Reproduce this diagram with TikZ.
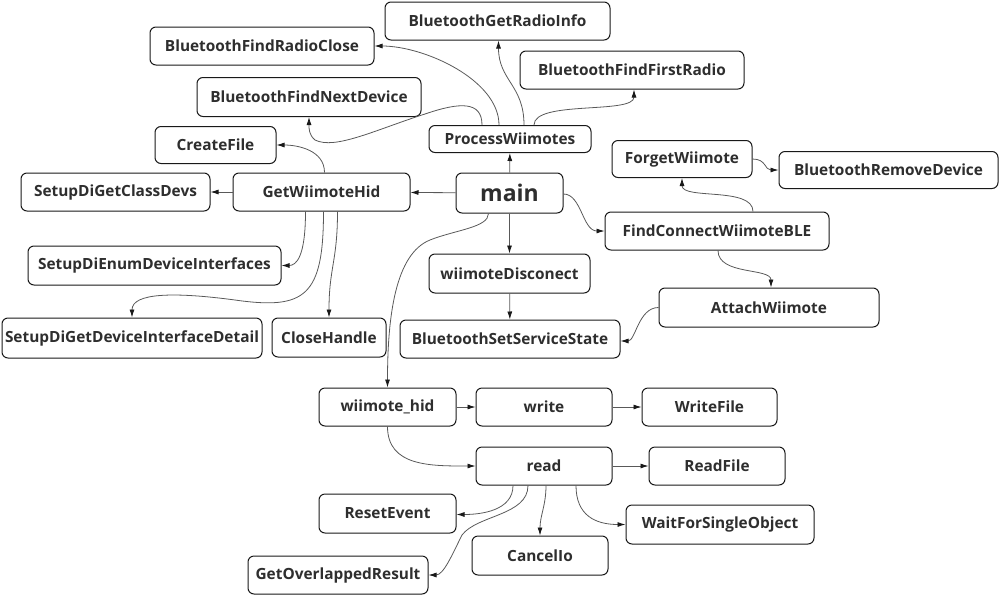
\documentclass[tikz,border=0pt]{standalone}
\usepackage{fontspec}
\setmainfont{Open Sans}
\usetikzlibrary{arrows.meta}
\begin{document}
\begin{tikzpicture}[x=1pt,y=-1pt,
  box/.style={draw=black!90, line width=1pt, rounded corners=6pt, fill=white, inner sep=0pt,
    font=\fontsize{15.4}{18}\selectfont\bfseries, text=black!82},
  edge/.style={draw=black!65, line width=0.8pt, -{Latex[length=8pt,width=5pt,color=black!90]}}]
\useasboundingbox (0,0) rectangle (1005,598);
% nodes
\node[box, minimum width=225, minimum height=38] (bgri) at (497.5,21) {BluetoothGetRadioInfo};
\node[box, minimum width=224, minimum height=38] (bfrc) at (262,46) {BluetoothFindRadioClose};
\node[box, minimum width=224, minimum height=38] (bffr) at (632,70) {BluetoothFindFirstRadio};
\node[box, minimum width=224, minimum height=39] (bfnd) at (309,97) {BluetoothFindNextDevice};
\node[box, minimum width=162, minimum height=27] (pw) at (510,139) {ProcessWiimotes};
\node[box, minimum width=121, minimum height=37] (cf) at (215.5,145) {CreateFile};
\node[box, minimum width=189, minimum height=38] (sdgcd) at (115.5,192) {SetupDiGetClassDevs};
\node[box, minimum width=177, minimum height=38] (gwh) at (321.5,192) {GetWiimoteHid};
\node[box, minimum width=107, minimum height=40, font=\fontsize{23}{27}\selectfont\bfseries] (main) at (509.5,193) {main};
\node[box, minimum width=140, minimum height=37] (fw) at (682,159) {ForgetWiimote};
\node[box, minimum width=219, minimum height=37] (brd) at (888.5,170) {BluetoothRemoveDevice};
\node[box, minimum width=224, minimum height=38] (fcw) at (717,231) {FindConnectWiimoteBLE};
\node[box, minimum width=253, minimum height=39] (sdedi) at (154.5,265.5) {SetupDiEnumDeviceInterfaces};
\node[box, minimum width=161, minimum height=39] (wd) at (509.5,273.5) {wiimoteDisconect};
\node[box, minimum width=220, minimum height=39] (aw) at (769,307.5) {AttachWiimote};
\node[box, minimum width=220, minimum height=38] (bsss) at (510,339) {BluetoothSetServiceState};
\node[box, minimum width=260, minimum height=40] (sdgdid) at (132,338) {SetupDiGetDeviceInterfaceDetail};
\node[box, minimum width=114, minimum height=39] (ch) at (329,337.5) {CloseHandle};
\node[box, minimum width=137, minimum height=38] (wh) at (387.5,407) {wiimote\_hid};
\node[box, minimum width=136, minimum height=38] (wr) at (544,407) {write};
\node[box, minimum width=135, minimum height=38] (wf) at (709.5,407) {WriteFile};
\node[box, minimum width=136, minimum height=38] (rd) at (544,466) {read};
\node[box, minimum width=136, minimum height=38] (rf) at (717,466) {ReadFile};
\node[box, minimum width=137, minimum height=39] (re) at (387.5,513.5) {ResetEvent};
\node[box, minimum width=188, minimum height=39] (wfso) at (720,524.5) {WaitForSingleObject};
\node[box, minimum width=136, minimum height=39] (cio) at (540,555.5) {CancelIo};
\node[box, minimum width=180, minimum height=38] (gor) at (338,575) {GetOverlappedResult};
% edges
\draw[edge] (main) -- (pw);
\draw[edge] (main) -- (gwh);
\draw[edge] (main) -- (wd);
\draw[edge] ([yshift=-1pt]main.east) .. controls +(18,0) and +(-22,0) .. (fcw.west);
\draw[edge] ([xshift=-21pt]main.south) .. controls +(0,14) and +(25,-10) .. (430,240) .. controls +(-35,14) and +(0,-70) .. (wh.north);
\draw[edge] ([xshift=-11pt]pw.north) .. controls +(0,-45) and +(50,0) .. (bfrc.east);
\draw[edge] ([xshift=14pt]pw.north) .. controls +(0,-40) and +(0,40) .. ([xshift=1pt]bgri.south);
\draw[edge] ([xshift=24pt]pw.north) .. controls +(0,-25) and +(0,25) .. ([xshift=2pt]bffr.south);
\draw[edge] ([xshift=-28pt]pw.north) .. controls +(0,-24) and +(35,-12) .. (425,114) .. controls +(-50,16) and +(20,10) .. (315,140) .. controls +(-6,-5) and +(0,12) .. (bfnd.south);
\draw[edge] ([xshift=3pt]gwh.north) .. controls +(0,-22) and +(22,0) .. (cf.east);
\draw[edge] (gwh) -- (sdgcd);
\draw[edge] ([xshift=-16pt]gwh.south) .. controls +(0,45) and +(15,0) .. (sdedi.east);
\draw[edge] ([xshift=2pt]gwh.south) .. controls +(0,85) and +(70,10) .. (235,300) .. controls +(-60,-8) and +(0,-25) .. (sdgdid.north);
\draw[edge] ([xshift=16pt]gwh.south) .. controls +(0,50) and +(0,-50) .. (ch.north);
\draw[edge] ([xshift=36pt]fcw.north) .. controls +(0,-25) and +(0,22) .. (fw.south);
\draw[edge] (fw.east) .. controls +(14,0) and +(-14,0) .. (brd.west);
\draw[edge] ([xshift=1pt]fcw.south) .. controls +(0,25) and +(0,-20) .. ([xshift=2pt]aw.north);
\draw[edge] (aw.west) .. controls +(-20,0) and +(15,0) .. ([yshift=-2pt]bsss.east);
\draw[edge] (wd) -- (bsss);
\draw[edge] (wh) -- (wr);
\draw[edge] (wr) -- (wf);
\draw[edge] (wh.south) .. controls +(0,40) and +(-45,0) .. (rd.west);
\draw[edge] (rd) -- (rf);
\draw[edge] ([xshift=-31pt]rd.south) .. controls +(0,25) and +(25,0) .. ([yshift=-1pt]re.east);
\draw[edge] ([xshift=-16pt]rd.south) .. controls +(0,30) and +(15,-20) .. (462,535) .. controls +(-10,20) and +(15,0) .. (gor.east);
\draw[edge] ([xshift=2pt]rd.south) .. controls +(0,20) and +(0,-20) .. (cio.north);
\draw[edge] ([xshift=32pt]rd.south) .. controls +(0,30) and +(-30,0) .. (wfso.west);
\end{tikzpicture}
\end{document}
